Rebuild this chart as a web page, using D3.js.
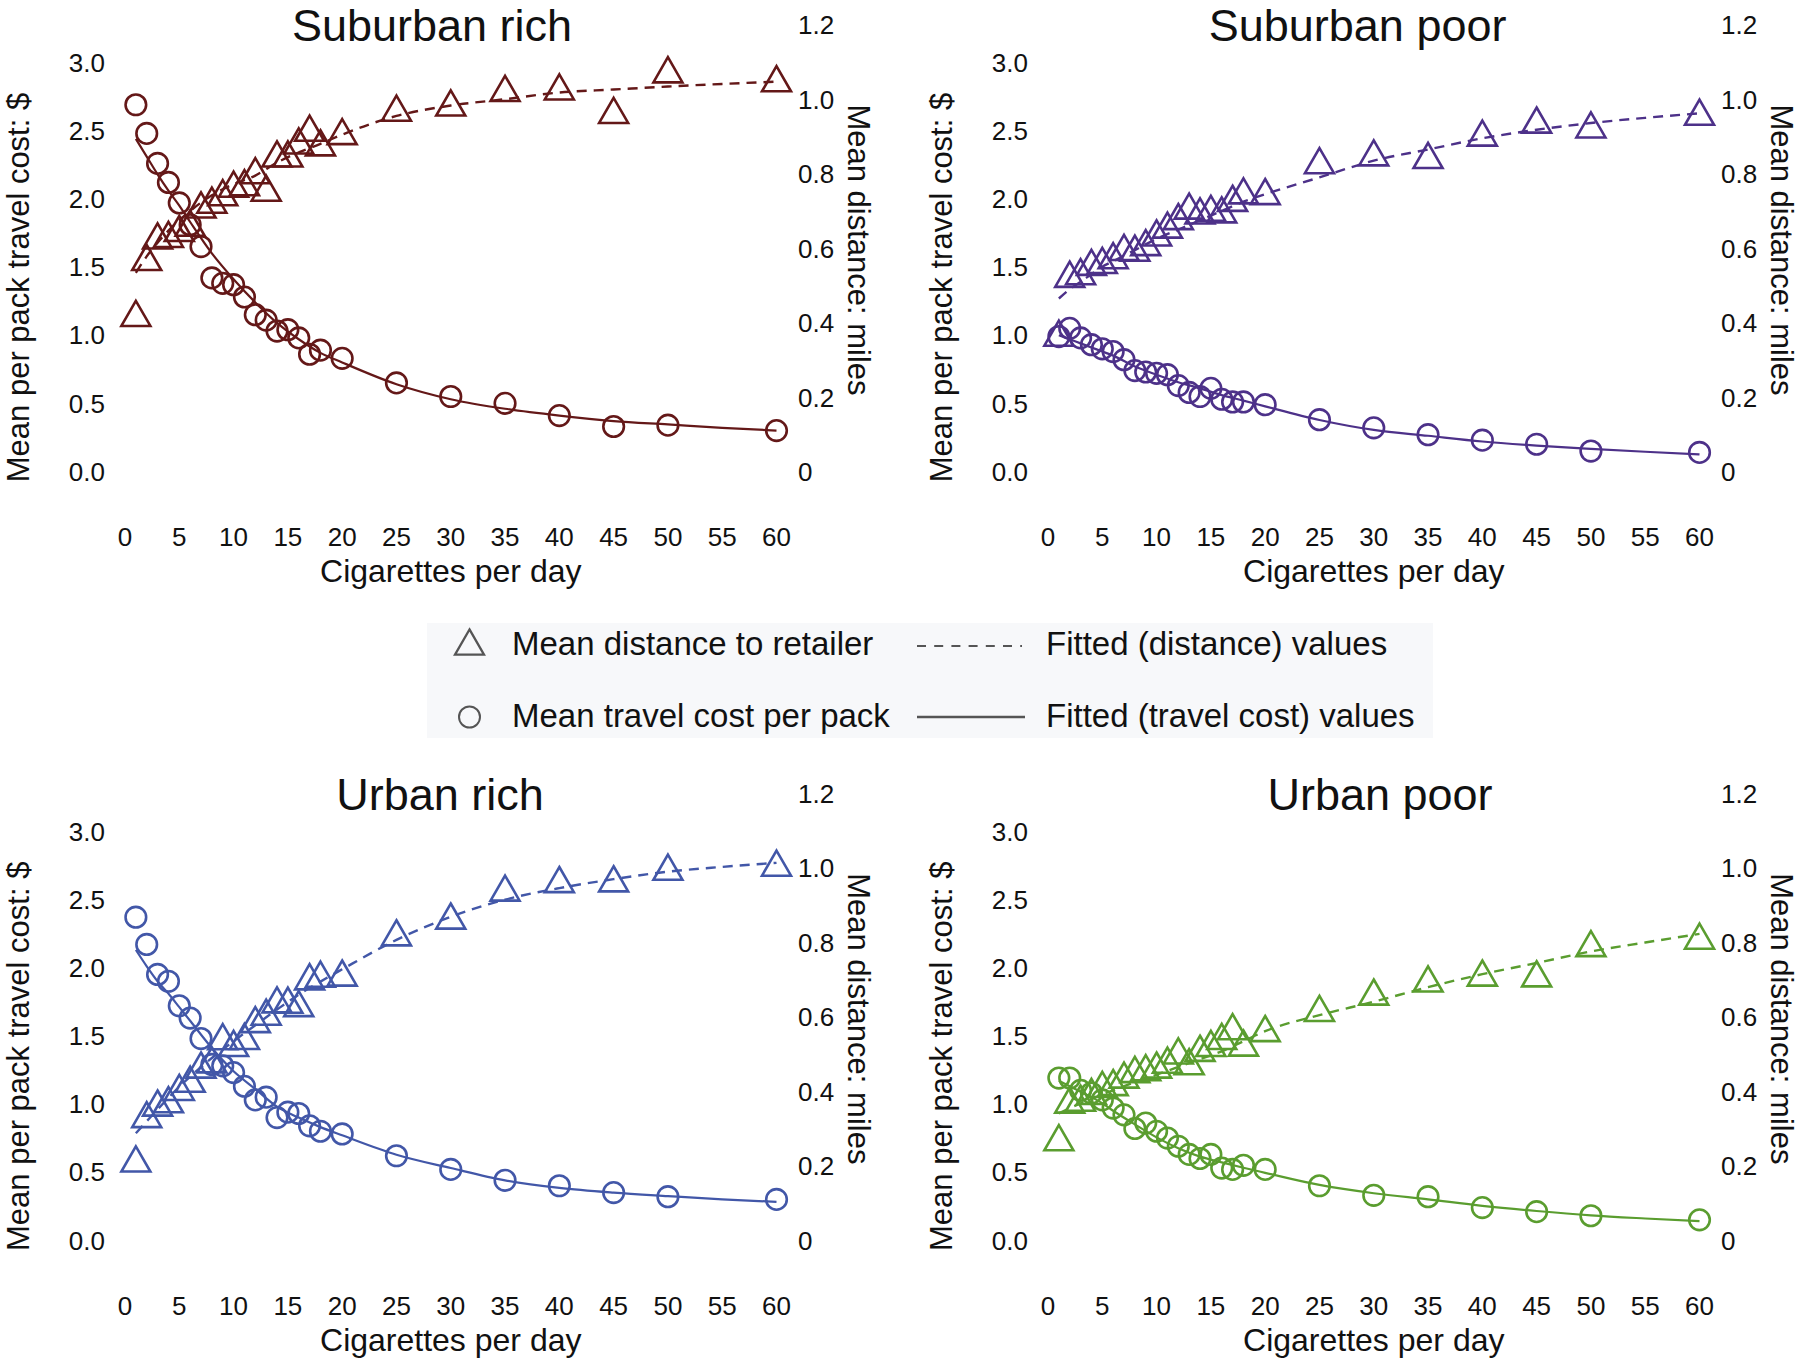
<!DOCTYPE html>
<html>
<head>
<meta charset="utf-8">
<script src="https://cdn.jsdelivr.net/npm/d3@7"></script>
<style>
  html, body { margin: 0; padding: 0; background: #ffffff; }
  svg { display: block; }
  text { font-family: "Liberation Sans", Arial, sans-serif; fill: #111; }
</style>
</head>
<body>
<svg id="chart" width="1800" height="1361"></svg>
<script>
// ---------------- DATA ----------------
const panelTitles = ["Suburban rich", "Suburban poor", "Urban rich", "Urban poor"];
const panelColors = ["#641818", "#4d3189", "#4257a8", "#5a9d2f"];

// cigarettes per day for observed means
const cigs = [1,2,3,4,5,6,7,8,9,10,11,12,13,14,15,16,17,18,20,25,30,35,40,45,50,60];

// mean travel cost per pack ($, left axis)
const costSubRich  = [2.69,2.48,2.26,2.12,1.97,1.81,1.65,1.42,1.38,1.37,1.28,1.15,1.11,1.03,1.04,0.98,0.86,0.89,0.83,0.65,0.55,0.50,0.41,0.33,0.34,0.30];
const costSubPoor  = [0.99,1.05,0.98,0.93,0.90,0.88,0.82,0.74,0.73,0.72,0.71,0.63,0.58,0.55,0.61,0.53,0.51,0.51,0.49,0.38,0.32,0.27,0.23,0.20,0.15,0.14];
const costUrbRich  = [2.37,2.17,1.95,1.90,1.72,1.63,1.48,1.29,1.28,1.23,1.13,1.03,1.05,0.90,0.94,0.93,0.84,0.80,0.78,0.62,0.52,0.44,0.40,0.35,0.32,0.30];
const costUrbPoor  = [1.19,1.19,1.10,1.08,1.03,0.97,0.92,0.82,0.86,0.80,0.75,0.69,0.63,0.60,0.63,0.53,0.52,0.55,0.52,0.40,0.33,0.32,0.24,0.21,0.18,0.15];

// mean distance to retailer (miles, right axis)
const distSubRich  = [0.425,0.575,0.633,0.637,0.653,0.667,0.716,0.729,0.749,0.772,0.776,0.808,0.761,0.853,0.853,0.888,0.922,0.883,0.913,0.976,0.990,1.029,1.033,0.970,1.079,1.055];
const distSubPoor  = [0.372,0.530,0.537,0.562,0.567,0.580,0.602,0.600,0.615,0.641,0.662,0.685,0.713,0.700,0.707,0.703,0.734,0.754,0.752,0.835,0.856,0.849,0.909,0.944,0.931,0.965];
const distUrbRich  = [0.219,0.338,0.369,0.378,0.411,0.433,0.471,0.485,0.547,0.529,0.548,0.593,0.613,0.646,0.645,0.636,0.708,0.715,0.718,0.826,0.871,0.946,0.969,0.971,1.002,1.013];
const distUrbPoor  = [0.276,0.377,0.382,0.400,0.419,0.424,0.444,0.459,0.464,0.471,0.484,0.509,0.480,0.516,0.529,0.548,0.574,0.530,0.569,0.623,0.667,0.702,0.718,0.716,0.797,0.817];

// fitted curves
const fitX = [1,2,3,4,5,6,8,10,12,14,16,18,20,25,30,35,40,45,50,55,60];
const fitCostSubRich = [2.44,2.31,2.18,2.06,1.95,1.83,1.60,1.41,1.24,1.09,0.97,0.87,0.80,0.64,0.53,0.46,0.41,0.37,0.345,0.32,0.30];
const fitCostSubPoor = [1.00,0.97,0.94,0.91,0.88,0.85,0.77,0.71,0.655,0.61,0.56,0.52,0.478,0.378,0.305,0.262,0.22,0.19,0.166,0.145,0.126];
const fitCostUrbRich = [2.13,2.01,1.90,1.81,1.71,1.61,1.41,1.24,1.11,0.98,0.90,0.83,0.77,0.628,0.53,0.44,0.385,0.35,0.324,0.30,0.282];
const fitCostUrbPoor = [1.17,1.13,1.09,1.05,1.005,0.95,0.85,0.755,0.675,0.614,0.572,0.532,0.495,0.406,0.345,0.30,0.253,0.215,0.183,0.16,0.14];
const fitDistSubRich = [0.534,0.578,0.615,0.647,0.675,0.70,0.742,0.772,0.795,0.83,0.857,0.88,0.905,0.955,0.983,1.0,1.018,1.026,1.034,1.041,1.047];
const fitDistSubPoor = [0.465,0.49,0.51,0.53,0.55,0.565,0.595,0.625,0.65,0.675,0.70,0.725,0.745,0.79,0.835,0.865,0.895,0.918,0.936,0.95,0.962];
const fitDistUrbRich = [0.288,0.32,0.352,0.383,0.413,0.44,0.49,0.535,0.578,0.62,0.66,0.695,0.728,0.807,0.869,0.915,0.946,0.97,0.99,1.003,1.014];
const fitDistUrbPoor = [0.341,0.355,0.368,0.38,0.392,0.403,0.425,0.445,0.466,0.487,0.508,0.535,0.562,0.605,0.641,0.68,0.715,0.745,0.776,0.80,0.823];

// axis ticks
const xTicks = [0,5,10,15,20,25,30,35,40,45,50,55,60];
const leftTicks = [0,0.5,1.0,1.5,2.0,2.5,3.0];
const rightTicks = [0,0.2,0.4,0.6,0.8,1.0,1.2];
const rightTickLabels = ["0","0.2","0.4","0.6","0.8","1.0","1.2"];

const xTitle = "Cigarettes per day";
const leftTitle = "Mean per pack travel cost: $";
const rightTitle = "Mean distance: miles";
const legendLabels = ["Mean distance to retailer", "Mean travel cost per pack", "Fitted (distance) values", "Fitted (travel cost) values"];

// ---------------- DRAW ----------------
const costs = [costSubRich, costSubPoor, costUrbRich, costUrbPoor];
const dists = [distSubRich, distSubPoor, distUrbRich, distUrbPoor];
const fitCosts = [fitCostSubRich, fitCostSubPoor, fitCostUrbRich, fitCostUrbPoor];
const fitDists = [fitDistSubRich, fitDistSubPoor, fitDistUrbRich, fitDistUrbPoor];

const svg = d3.select("#chart");
const offsets = [[0,0],[923,0],[0,768.8],[923,768.8]];
const titleCx = [432, 1357.6, 440, 1380];

const x = d3.scaleLinear().domain([0,60]).range([125, 776.5]);
const yL = d3.scaleLinear().domain([0,3]).range([471.5, 62.5]);
const yR = d3.scaleLinear().domain([0,1.2]).range([471.7, 24.7]);

const triS = 29, triH = triS * Math.sqrt(3) / 2;
const triPath = `M0,${-triH/2} L${triS/2},${triH/2} L${-triS/2},${triH/2} Z`;

for (let p = 0; p < 4; p++) {
  const g = svg.append("g").attr("transform", `translate(${offsets[p][0]},${offsets[p][1]})`);
  const col = panelColors[p];

  // title
  g.append("text").attr("x", titleCx[p] - offsets[p][0]).attr("y", 41)
    .attr("text-anchor", "middle").style("font-size", "45px").text(panelTitles[p]);

  // x tick labels
  g.selectAll(".xt").data(xTicks).enter().append("text")
    .attr("x", d => x(d)).attr("y", 545.8).attr("text-anchor", "middle")
    .style("font-size", "26px").text(d => d);
  // left tick labels
  g.selectAll(".yl").data(leftTicks).enter().append("text")
    .attr("x", 105).attr("y", d => yL(d) + 9.3).attr("text-anchor", "end")
    .style("font-size", "26px").text(d => d.toFixed(1));
  // right tick labels
  g.selectAll(".yr").data(rightTicks).enter().append("text")
    .attr("x", 798).attr("y", d => yR(d) + 9.3).attr("text-anchor", "start")
    .style("font-size", "26px").text((d, i) => rightTickLabels[i]);

  // axis titles
  g.append("text").attr("x", (x(0) + x(60)) / 2).attr("y", 582).attr("text-anchor", "middle")
    .style("font-size", "32px").text(xTitle);
  g.append("text").attr("transform", "translate(28.5,287.5) rotate(-90)").attr("text-anchor", "middle")
    .style("font-size", "31px").text(leftTitle);
  g.append("text").attr("transform", "translate(848,250) rotate(90)").attr("text-anchor", "middle")
    .style("font-size", "31px").text(rightTitle);

  // fitted lines
  const lineCost = d3.line().x((d, i) => x(fitX[i])).y(d => yL(d)).curve(d3.curveMonotoneX);
  const lineDist = d3.line().x((d, i) => x(fitX[i])).y(d => yR(d)).curve(d3.curveMonotoneX);
  g.append("path").attr("d", lineCost(fitCosts[p])).attr("fill", "none")
    .attr("stroke", col).attr("stroke-width", 2.2);
  g.append("path").attr("d", lineDist(fitDists[p])).attr("fill", "none")
    .attr("stroke", col).attr("stroke-width", 2.4).attr("stroke-dasharray", "10,7");

  // markers: triangles (distance), circles (cost)
  g.selectAll(".tri").data(dists[p]).enter().append("path")
    .attr("d", triPath)
    .attr("transform", (d, i) => `translate(${x(cigs[i])},${yR(d)})`)
    .attr("fill", "none").attr("stroke", col).attr("stroke-width", 2.6);
  g.selectAll(".cir").data(costs[p]).enter().append("circle")
    .attr("cx", (d, i) => x(cigs[i])).attr("cy", d => yL(d)).attr("r", 10.3)
    .attr("fill", "none").attr("stroke", col).attr("stroke-width", 2.6);
}

// legend
const lg = svg.append("g");
lg.append("rect").attr("x", 427).attr("y", 623).attr("width", 1006).attr("height", 115).attr("fill", "#f7f8fa");
const lcol = "#555555";
lg.append("path").attr("d", triPath).attr("transform", "translate(469.5,642)")
  .attr("fill", "none").attr("stroke", lcol).attr("stroke-width", 2.3);
lg.append("circle").attr("cx", 469.5).attr("cy", 717).attr("r", 10.5)
  .attr("fill", "none").attr("stroke", lcol).attr("stroke-width", 2);
lg.append("line").attr("x1", 917).attr("x2", 1022).attr("y1", 646).attr("y2", 646)
  .attr("stroke", lcol).attr("stroke-width", 2).attr("stroke-dasharray", "9,8.2");
lg.append("line").attr("x1", 917).attr("x2", 1025).attr("y1", 717).attr("y2", 717)
  .attr("stroke", lcol).attr("stroke-width", 2.5);
lg.append("text").attr("x", 512).attr("y", 655).style("font-size", "33px").text(legendLabels[0]);
lg.append("text").attr("x", 512).attr("y", 727).style("font-size", "33px").text(legendLabels[1]);
lg.append("text").attr("x", 1046).attr("y", 655).style("font-size", "33px").text(legendLabels[2]);
lg.append("text").attr("x", 1046).attr("y", 727).style("font-size", "33px").text(legendLabels[3]);
</script>
</body>
</html>
